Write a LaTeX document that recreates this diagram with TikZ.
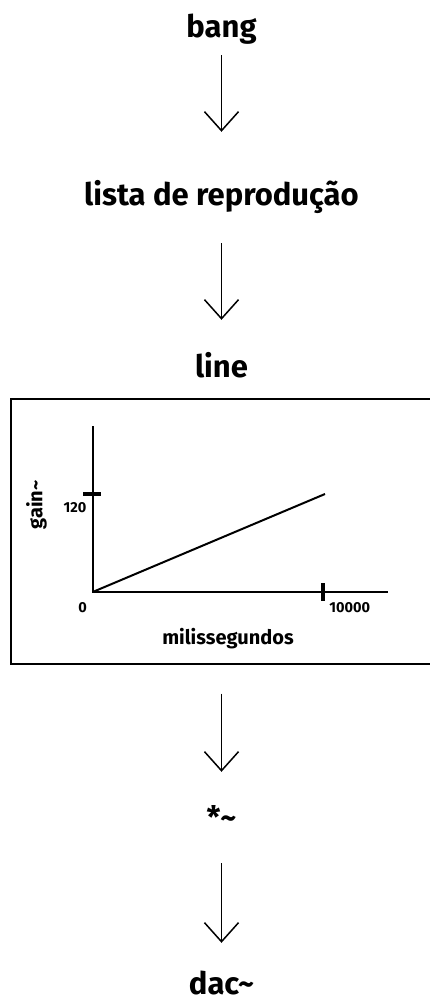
\documentclass[tikz,border=0pt]{standalone}
\usepackage{fontspec}
\setmainfont{Fira Sans}
\usetikzlibrary{arrows.meta}

\begin{document}
\begin{tikzpicture}[x=1pt, y=-1pt,
		objname/.style={font=\fontsize{31}{34}\selectfont\bfseries, anchor=base,
			inner sep=0pt, text height=24pt, text depth=8pt},
		arr/.style={-{Straight Barb[length=19pt, width=34pt, line width=1.5pt]}, line width=1.5pt},
		axisline/.style={line width=2pt},
		tickmark/.style={line width=4.5pt},
		lbl/.style={font=\fontsize{20}{23}\selectfont\bfseries, inner sep=0pt},
		num/.style={font=\fontsize{14.5}{16}\selectfont\bfseries, inner sep=0pt}
		]
		\useasboundingbox[fill=white] (0,0) rectangle (430,999);
		
		\node[objname] (bang) at (221.5, 37) {bang};
		\node[objname] (lista) at (221.5, 205) {lista de reprodução};
		\node[objname] (line) at (221.5, 377) {line};
		\node[draw, line width=1.3pt, minimum width=421pt, minimum height=265pt,
			inner sep=0pt] (plot) at (221.5, 531.5) {};
		\node[objname] (mul) at (221.5, 828) {*\textasciitilde};
		\node[objname] (dac) at (221.5, 994) {dac\textasciitilde};
		
		\draw[arr, shorten <=10pt, shorten >=49pt] (bang) -- (lista);
		\draw[arr, shorten <=30pt, shorten >=33pt] (lista) -- (line);
		\draw[arr, shorten <=29pt, shorten >=32pt] (plot) -- (mul);
		\draw[arr, shorten <=27pt, shorten >=27pt] (mul) -- (dac);
		
		% envelope inside the line box
		\coordinate (O) at (92.7, 592);
		\draw[axisline] (92.7, 426) -- (O) -- (387.7, 592);
		\draw[axisline] (O) -- (325, 494);
		\draw[tickmark] (83, 494) -- (101, 494);
		\draw[tickmark] (323, 583) -- (323, 601);
		\node[num] (ymax) at (75, 508) {120};
		\node[num] (zero) at (82.5, 608) {0};
		\node[num] (xmax) at (349.7, 608) {10000};
		\node[lbl, rotate=90] (ylab) at (36.5, 505) {gain\textasciitilde};
		\node[lbl] (xlab) at (228, 639) {milissegundos};
	\end{tikzpicture}
\end{document}
